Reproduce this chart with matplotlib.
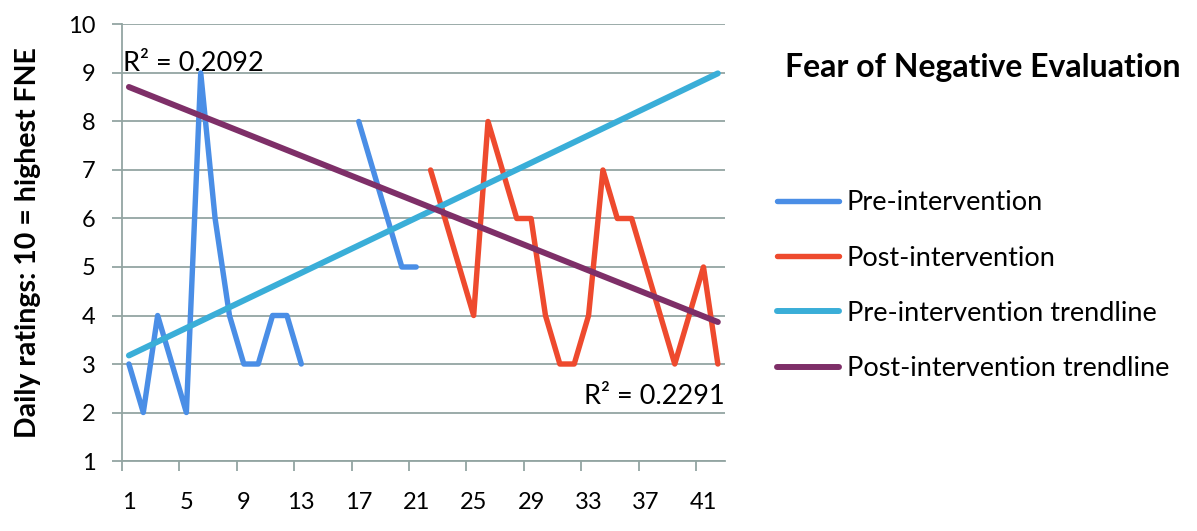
import numpy as np
import matplotlib
matplotlib.use("Agg")
import matplotlib.pyplot as plt

plt.rcParams['font.family'] = ['Lato', 'DejaVu Sans']

# daily ratings, days 1-42 (gaps are days with no rating)
pre_days = [1, 2, 3, 4, 5, 6, 7, 8, 9, 10, 11, 12, 13, 17, 18, 19, 20, 21]
pre_vals = [3, 2, 4, 3, 2, 9, 6, 4, 3, 3, 4, 4, 3, 8, 7, 6, 5, 5]
post_days = list(range(22, 43))
post_vals = [7, 6, 5, 4, 8, 7, 6, 6, 4, 3, 3, 4, 7, 6, 6, 5, 4, 3, 4, 5, 3]

all_days = np.arange(1, 43)
tick_labels = [str(d) for d in range(1, 42, 4)]

c_pre = '#4a8ee6'
c_post = '#ee4a2e'
c_pre_tr = '#3aaed8'
c_post_tr = '#7e2f68'
c_grid = '#93a5a2'


def trend(x, y):
    x = np.asarray(x, float)
    y = np.asarray(y, float)
    k, b = np.polyfit(x, y, 1)
    fit = k * x + b
    r2 = 1 - ((y - fit) ** 2).sum() / ((y - y.mean()) ** 2).sum()
    return k * all_days + b, r2


def seg(days, vals):
    # split into runs of consecutive days so gaps stay empty
    runs, cur = [], [(days[0], vals[0])]
    for d, v in zip(days[1:], vals[1:]):
        if d == cur[-1][0] + 1:
            cur.append((d, v))
        else:
            runs.append(cur)
            cur = [(d, v)]
    runs.append(cur)
    return runs


fig = plt.figure(figsize=(11.97, 5.31), dpi=100)
ax = fig.add_axes([0.1017, 0.1318, 0.5040, 0.8221])

lw = 3.9
for i, r in enumerate(seg(pre_days, pre_vals)):
    ax.plot([p[0] for p in r], [p[1] for p in r], color=c_pre, lw=lw,
            solid_capstyle='round', solid_joinstyle='round', zorder=3,
            label='Pre-intervention' if i == 0 else None)
ax.plot(post_days, post_vals, color=c_post, lw=lw, solid_capstyle='round',
        solid_joinstyle='round', zorder=3, label='Post-intervention')

pre_tr, pre_r2 = trend(pre_days, pre_vals)
post_tr, post_r2 = trend(post_days, post_vals)
ax.plot(all_days, pre_tr, color=c_pre_tr, lw=4.3, solid_capstyle='round',
        zorder=4, label='Pre-intervention trendline')
ax.plot(all_days, post_tr, color=c_post_tr, lw=4.3, solid_capstyle='round',
        zorder=5, label='Post-intervention trendline')

ax.text(0.6, 9.2, 'R² = %.4f' % pre_r2, fontsize=19.5, ha='left', va='center', zorder=6)
ax.text(42.45, 2.32, 'R² = %.4f' % post_r2, fontsize=19.5, ha='right', va='center', zorder=6)

ax.set_xlim(0.5, 42.5)
ax.set_ylim(1, 10)
ax.set_yticks(range(1, 11))
ax.set_xticks(np.arange(0.5, 41, 4))
ax.set_xticklabels([])
ax.set_xticks(range(1, 42, 4), minor=True)
ax.set_xticklabels(tick_labels, minor=True)
ax.tick_params(axis='x', which='minor', length=0, pad=22, labelsize=17)
ax.tick_params(axis='x', which='major', length=7, width=1.3, color=c_grid)
ax.tick_params(axis='y', length=7, width=1.3, color=c_grid, pad=12, labelsize=17)
ax.grid(axis='y', color=c_grid, lw=1.3)
ax.set_axisbelow(True)
for s in ['top', 'right']:
    ax.spines[s].set_visible(False)
for s in ['left', 'bottom']:
    ax.spines[s].set_color(c_grid)
    ax.spines[s].set_linewidth(1.3)

ax.set_ylabel('Daily ratings: 10 = highest FNE', fontsize=20.5, fontweight='bold', labelpad=19)

fig.text(0.656, 0.872, 'Fear of Negative Evaluation', fontsize=23,
         fontweight='bold', ha='left', va='center')

fig.legend(loc='center left', bbox_to_anchor=(0.640, 0.462), frameon=False,
           fontsize=19.5, handlelength=2.3, handletextpad=0.28, labelspacing=1.12,
           borderaxespad=0)

fig.savefig('out.png', dpi=100)
